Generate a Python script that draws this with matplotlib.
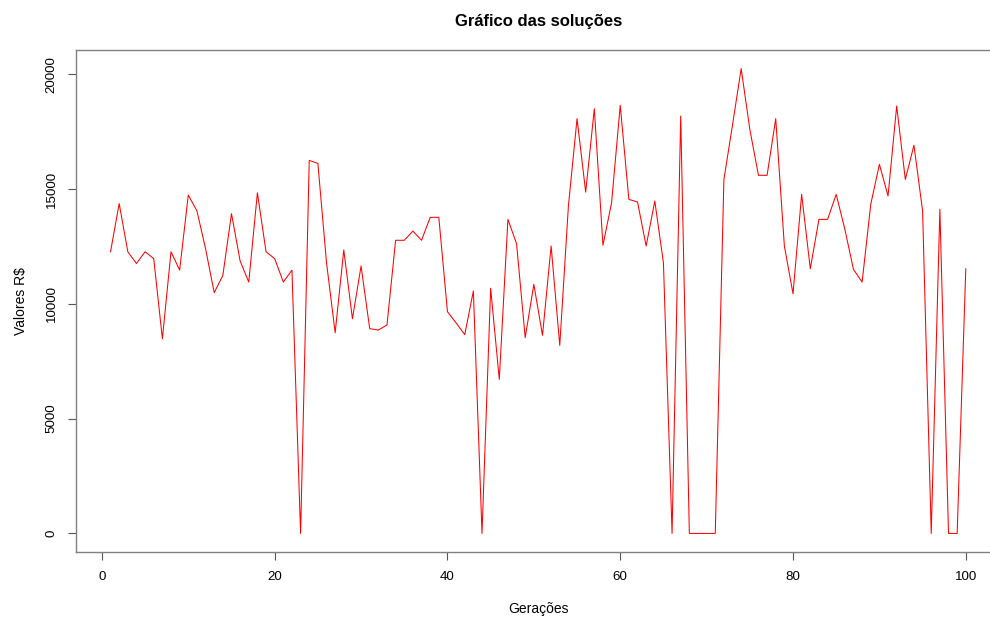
import matplotlib.pyplot as plt

plt.rcParams["font.family"] = ["Liberation Sans", "DejaVu Sans"]

geracoes = list(range(1, 101))

valores = [
    12270, 14370, 12270, 11760, 12270, 11970, 8480, 12270, 11470, 14740,
    14050, 12400, 10490, 11240, 13930, 11870, 10950, 14840, 12270, 11970,
    10950, 11470, 0, 16250, 16120, 11800, 8740, 12350, 9350, 11650,
    8920, 8860, 9080, 12770, 12770, 13170, 12770, 13770, 13770, 9660,
    9170, 8660, 10560, 0, 10680, 6710, 13680, 12620, 8530, 10850,
    8630, 12520, 8190, 14260, 18070, 14870, 18500, 12550, 14410, 18650,
    14550, 14440, 12520, 14480, 11790, 0, 18180, 0, 0, 0,
    0, 15420, 17800, 20250, 17600, 15600, 15600, 18070, 12520, 10440,
    14770, 11530, 13680, 13680, 14770, 13250, 11500, 10950, 14340, 16080,
    14700, 18620, 15420, 16910, 14050, 0, 14120, 0, 0, 11530,
]

x_ticks = [0, 20, 40, 60, 80, 100]
y_ticks = [0, 5000, 10000, 15000, 20000]


def main():
    fig = plt.figure(figsize=(9.9, 6.21), dpi=100)
    # the plot box runs slightly past the right edge of the picture
    ax = fig.add_axes([0.0771, 0.1111, 0.9330, 0.8084])

    ax.plot(geracoes, valores, color="red", linewidth=0.75)

    # R-style 4% padding around the data range
    x_pad = (max(geracoes) - min(geracoes)) * 0.04
    y_pad = (max(valores) - min(valores)) * 0.04
    ax.set_xlim(min(geracoes) - x_pad, max(geracoes) + x_pad)
    ax.set_ylim(min(valores) - y_pad, max(valores) + y_pad)

    ax.set_xticks(x_ticks)
    ax.set_yticks(y_ticks)
    ax.set_yticklabels([str(v) for v in y_ticks], rotation=90, va="center")
    ax.tick_params(direction="out", length=6, width=0.8, color="#555555",
                   labelsize=9.6, pad=7.5)

    for spine in ax.spines.values():
        spine.set_color("#808080")
        spine.set_linewidth(1.0)

    ax.set_title("Gráfico das soluções", fontsize=12, fontweight="bold", pad=17)
    ax.set_xlabel("Gerações", fontsize=10, labelpad=14)
    ax.set_ylabel("Valores R$", fontsize=10, labelpad=13)

    fig.savefig("out.png", dpi=100, facecolor="white")


if __name__ == "__main__":
    main()
